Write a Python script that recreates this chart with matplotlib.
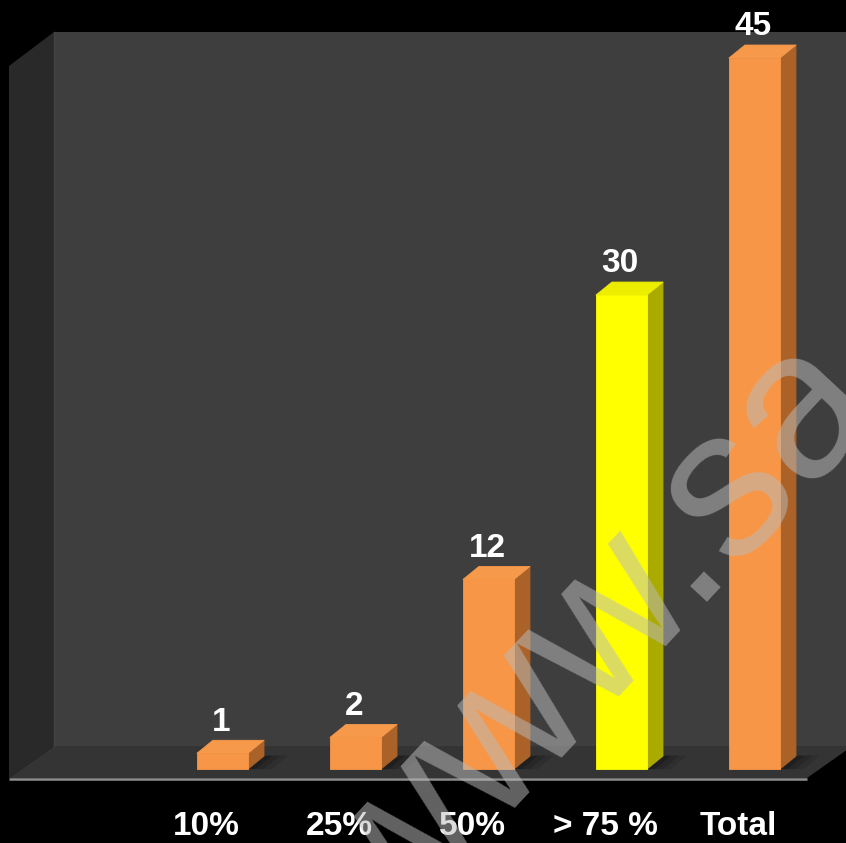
import matplotlib
matplotlib.use("Agg")
import matplotlib.pyplot as plt
from matplotlib.patches import Polygon

# ---- data ----
categories = ["10%", "25%", "50%", "> 75 %", "Total"]
values = [1, 2, 12, 30, 45]
front_colors = ["#f79646", "#f79646", "#f79646", "#ffff00", "#f79646"]
top_colors = ["#f6994b", "#f6994b", "#f6994b", "#eded00", "#f6994b"]
side_colors = ["#aa6229", "#aa6229", "#aa6229", "#aaaa00", "#aa6229"]

# ---- figure ----
W, H = 846, 843
fig = plt.figure(figsize=(W / 100, H / 100), dpi=100, facecolor="black")

# backdrop (walls and floor) in pixel units
bg = fig.add_axes([0, 0, 1, 1])
bg.set_xlim(0, W)
bg.set_ylim(H, 0)
bg.axis("off")
bg.set_facecolor("black")

back_wall = Polygon([(54, 32), (W + 5, 32), (W + 5, 746), (54, 746)],
                    closed=True, facecolor="#3e3e3e", edgecolor="none")
left_wall = Polygon([(9, 66), (54, 32), (54, 746), (9, 778)],
                    closed=True, facecolor="#292929", edgecolor="none")
floor = Polygon([(9, 778), (54, 746), (W + 5, 746), (W + 5, 747), (807, 778)],
                closed=True, facecolor="#343434", edgecolor="none")
for p in (back_wall, left_wall, floor):
    bg.add_patch(p)
bg.plot([54, 54], [32, 746], color="#444444", lw=1)
bg.plot([9, 807], [778.5, 778.5], color="#8e8e8e", lw=1.8, solid_capstyle="butt")

# ---- bars on value axes ----
ax = fig.add_axes([0, 0, 1, 1])
ax.patch.set_alpha(0)
ax.axis("off")
ax.set_xlim(-1.673, 4.688)
ax.set_ylim(-4.68, 48.67)

half_w = 0.192     # half bar width (category units)
dx, dy = 0.12, 0.82  # depth offset (category units, value units)

for i, (v, fc, tc, sc) in enumerate(zip(values, front_colors, top_colors, side_colors)):
    x0, x1 = i - half_w, i + half_w
    # soft floor shadow
    for k, a in enumerate([0.10, 0.14, 0.18]):
        g = 0.06 * (3 - k)
        ax.add_patch(Polygon([(x0 + 0.02, 0), (x1 + g, 0), (x1 + dx + g, dy + 0.25 * g),
                              (x0 + dx, dy + 0.25 * g)],
                             closed=True, facecolor="black", alpha=a, edgecolor="none", zorder=1))
    ax.add_patch(Polygon([(x1, 0), (x1 + dx, dy), (x1 + dx, v + dy), (x1, v)],
                         closed=True, facecolor=sc, edgecolor=sc, lw=0.6,
                         joinstyle="round", zorder=2))
    ax.add_patch(Polygon([(x0, v), (x1, v), (x1 + dx, v + dy), (x0 + dx, v + dy)],
                         closed=True, facecolor=tc, edgecolor=tc, lw=0.6,
                         joinstyle="round", zorder=2))
    ax.add_patch(Polygon([(x0, 0), (x1, 0), (x1, v), (x0, v)],
                         closed=True, facecolor=fc, edgecolor=fc, lw=0.6,
                         joinstyle="round", zorder=3))
    ax.annotate(f"{v}", xy=(i, v + dy), xytext=(-1, 7), textcoords="offset points",
                ha="center", va="baseline", color="white", fontsize=24,
                fontweight="bold", family="Liberation Sans", zorder=5)
    ax.text(i - 0.12, -4.18, categories[i], ha="center", va="baseline",
            color="white", fontsize=24, fontweight="bold",
            family="Liberation Sans", zorder=5)

# ---- watermark ----
fig.text(391, 942, "www.sa", transform=bg.transData, rotation=47,
         rotation_mode="anchor", ha="left", va="baseline",
         fontsize=152, family="Liberation Sans", color="#bbbbbb",
         alpha=0.53, zorder=10)

fig.savefig("out.png", dpi=100, facecolor="black")
